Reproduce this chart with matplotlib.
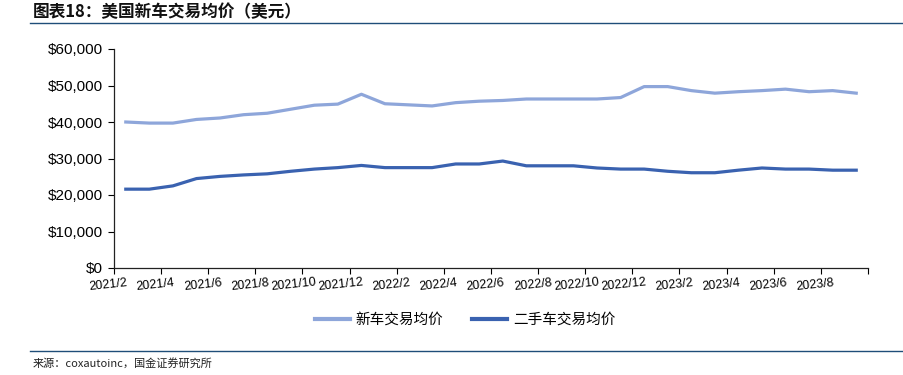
import matplotlib
matplotlib.use('Agg')
import matplotlib.pyplot as plt
from matplotlib.lines import Line2D
from matplotlib.ticker import FuncFormatter

plt.rcParams['font.family'] = ['Liberation Sans', 'Noto Sans CJK SC', 'DejaVu Sans']

# months 2021/2 .. 2023/9
months = []
for y in (2021, 2022, 2023):
    for m in range(1, 13):
        if (y == 2021 and m < 2) or (y == 2023 and m > 9):
            continue
        months.append(f'{y}/{m}')

new_car = [40000, 39700, 39700, 40700, 41100, 42000, 42400, 43500,
           44600, 44900, 47600, 45000, 44700, 44400, 45300, 45700,
           45900, 46300, 46300, 46300, 46300, 46700, 49700, 49700,
           48600, 47900, 48300, 48600, 49000, 48300, 48600, 47900]
used_car = [21600, 21600, 22500, 24500, 25100, 25500, 25800, 26500,
            27100, 27500, 28100, 27500, 27500, 27500, 28500, 28500,
            29300, 28000, 28000, 28000, 27400, 27100, 27100, 26500,
            26100, 26100, 26800, 27400, 27100, 27100, 26800, 26800]
series_names = ['新车交易均价', '二手车交易均价']
colors = ['#8EA6DA', '#3A62B0']

fig = plt.figure(figsize=(9.04, 3.75), dpi=100)
W, H = 904, 375
cjk = ['Noto Sans CJK SC', 'DejaVu Sans']

# title and frame lines
fig.text(33 / W, 1 - 12 / H, '图表18：美国新车交易均价（美元）', fontsize=12, fontweight='bold',
         family=cjk, ha='left', va='center', color='#111111')
fig.add_artist(Line2D([30 / W, 1.0], [1 - 23 / H, 1 - 23 / H], color='#1F4E79', lw=1.0))
fig.add_artist(Line2D([30 / W, 1.0], [1 - 351 / H, 1 - 351 / H], color='#1F4E79', lw=1.0))
fig.text(33 / W, 1 - 363 / H, '来源：coxautoinc，国金证券研究所', fontsize=8,
         family=cjk, ha='left', va='center', color='#222222')

ax = fig.add_axes([114 / W, 1 - 268 / H, (868 - 114) / W, (268 - 49) / H])
x = list(range(len(months)))
ax.plot(x, new_car, color=colors[0], lw=2.3, solid_joinstyle='round')
ax.plot(x, used_car, color=colors[1], lw=2.3, solid_joinstyle='round')

ax.set_xlim(-0.5, len(months) - 0.5)
ax.set_ylim(0, 60000)
ax.set_yticks(range(0, 60001, 10000))
ax.yaxis.set_major_formatter(FuncFormatter(lambda v, p: f'${v:,.0f}'))
ax.tick_params(axis='y', labelsize=11, length=4, width=0.8, direction='out', pad=4)

# ticks between categories every 2 months, labels at category centres
ax.set_xticks([i - 0.5 for i in range(0, len(months) + 1, 2)])
ax.set_xticklabels([])
ax.tick_params(axis='x', length=4, width=0.8, direction='out')
for i in range(0, len(months), 2):
    ax.text(i + 0.05, -2400, months[i], rotation=6, rotation_mode='anchor',
            ha='right', va='top', fontsize=9, transform=ax.transData, clip_on=False)

for s in ['top', 'right']:
    ax.spines[s].set_visible(False)
for s in ['left', 'bottom']:
    ax.spines[s].set_linewidth(0.9)
    ax.spines[s].set_color('#222222')

handles = [Line2D([], [], color=c, lw=3) for c in colors]
fig.legend(handles, series_names, loc='center', bbox_to_anchor=(465 / W, 1 - 320 / H),
           ncol=2, frameon=False, handlelength=2.4, handletextpad=0.4,
           columnspacing=2.0, prop={'family': cjk, 'size': 10.5})

fig.savefig('out.png', dpi=100)
